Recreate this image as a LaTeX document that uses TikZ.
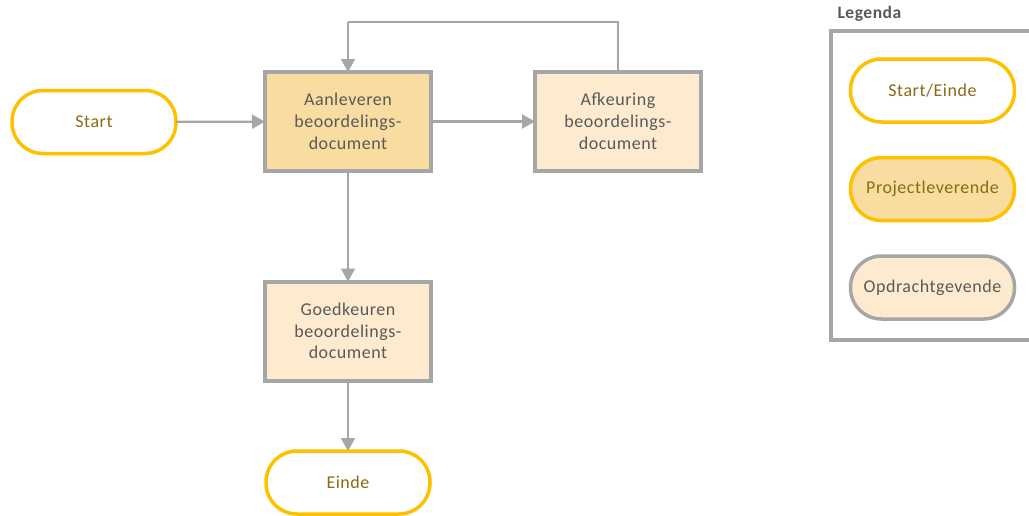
\documentclass[tikz,border=0pt]{standalone}
\usepackage{fontspec}
\setmainfont{Carlito}[LetterSpace=3]
\usetikzlibrary{arrows.meta}
\definecolor{gold}{HTML}{FFC000}
\definecolor{goldtext}{HTML}{8C6A14}
\definecolor{boxgray}{HTML}{A6A6A6}
\definecolor{textgray}{HTML}{595959}
\definecolor{darkfill}{HTML}{F8DCA0}
\definecolor{lightfill}{HTML}{FEEBCF}
\tikzset{
  terminal/.style={draw=gold, line width=3.5pt, fill=white, rounded corners=31pt,
    minimum width=164pt, minimum height=63pt, inner sep=0pt, outer sep=0pt,
    text=goldtext, font=\fontsize{18}{21}\selectfont},
  process/.style={draw=boxgray, line width=4pt, minimum width=166pt, minimum height=99pt,
    inner sep=0pt, outer sep=0pt, text=textgray, align=center,
    font=\fontsize{18}{21.8}\selectfont},
  legendbox/.style={draw=boxgray, line width=3.5pt, fill=white},
  flow/.style={draw=boxgray, line width=2.2pt, -{Triangle[width=14pt,length=13pt]}},
  loopline/.style={draw=boxgray, line width=2.2pt},
}
\begin{document}
\begin{tikzpicture}[x=1pt,y=-1pt]
  \useasboundingbox (0,0) rectangle (1029,515);
  % flow chart
  \node[terminal] (start) at (94,122) {Start};
  \node[process, fill=darkfill] (aan) at (348,121.5) {Aanleveren\\beoordelings-\\document};
  \node[process, fill=lightfill] (afk) at (618,121.5) {Afkeuring\\beoordelings-\\document};
  \node[process, fill=lightfill] (goed) at (348,331) {Goedkeuren\\beoordelings-\\document};
  \node[terminal] (einde) at (348,482.5) {Einde};
  \coordinate (loopR) at (618,22);
  \coordinate (loopL) at (348,22);
  \draw[flow] (start) -- (aan);
  \draw[flow] (aan) -- (afk);
  \draw[flow] (aan) -- (goed);
  \draw[flow] (goed) -- (einde);
  \draw[loopline] (afk.north) -- (loopR) -- (loopL);
  \draw[flow] (loopL) -- (aan.north);
  % legend
  \node[anchor=west, text=textgray, font=\bfseries\fontsize{17.5}{20}\selectfont] (legtitle) at (834,14) {Legenda};
  \draw[legendbox] (831,31) rectangle (1045,340);
  \node[terminal] (legstart) at (932.5,90.5) {Start/Einde};
  \node[terminal, fill=darkfill] (legproj) at (932.5,189) {Projectleverende};
  \node[terminal, draw=boxgray, fill=lightfill, text=textgray] (legopdr) at (932.5,287.5) {Opdrachtgevende};
\end{tikzpicture}
\end{document}
